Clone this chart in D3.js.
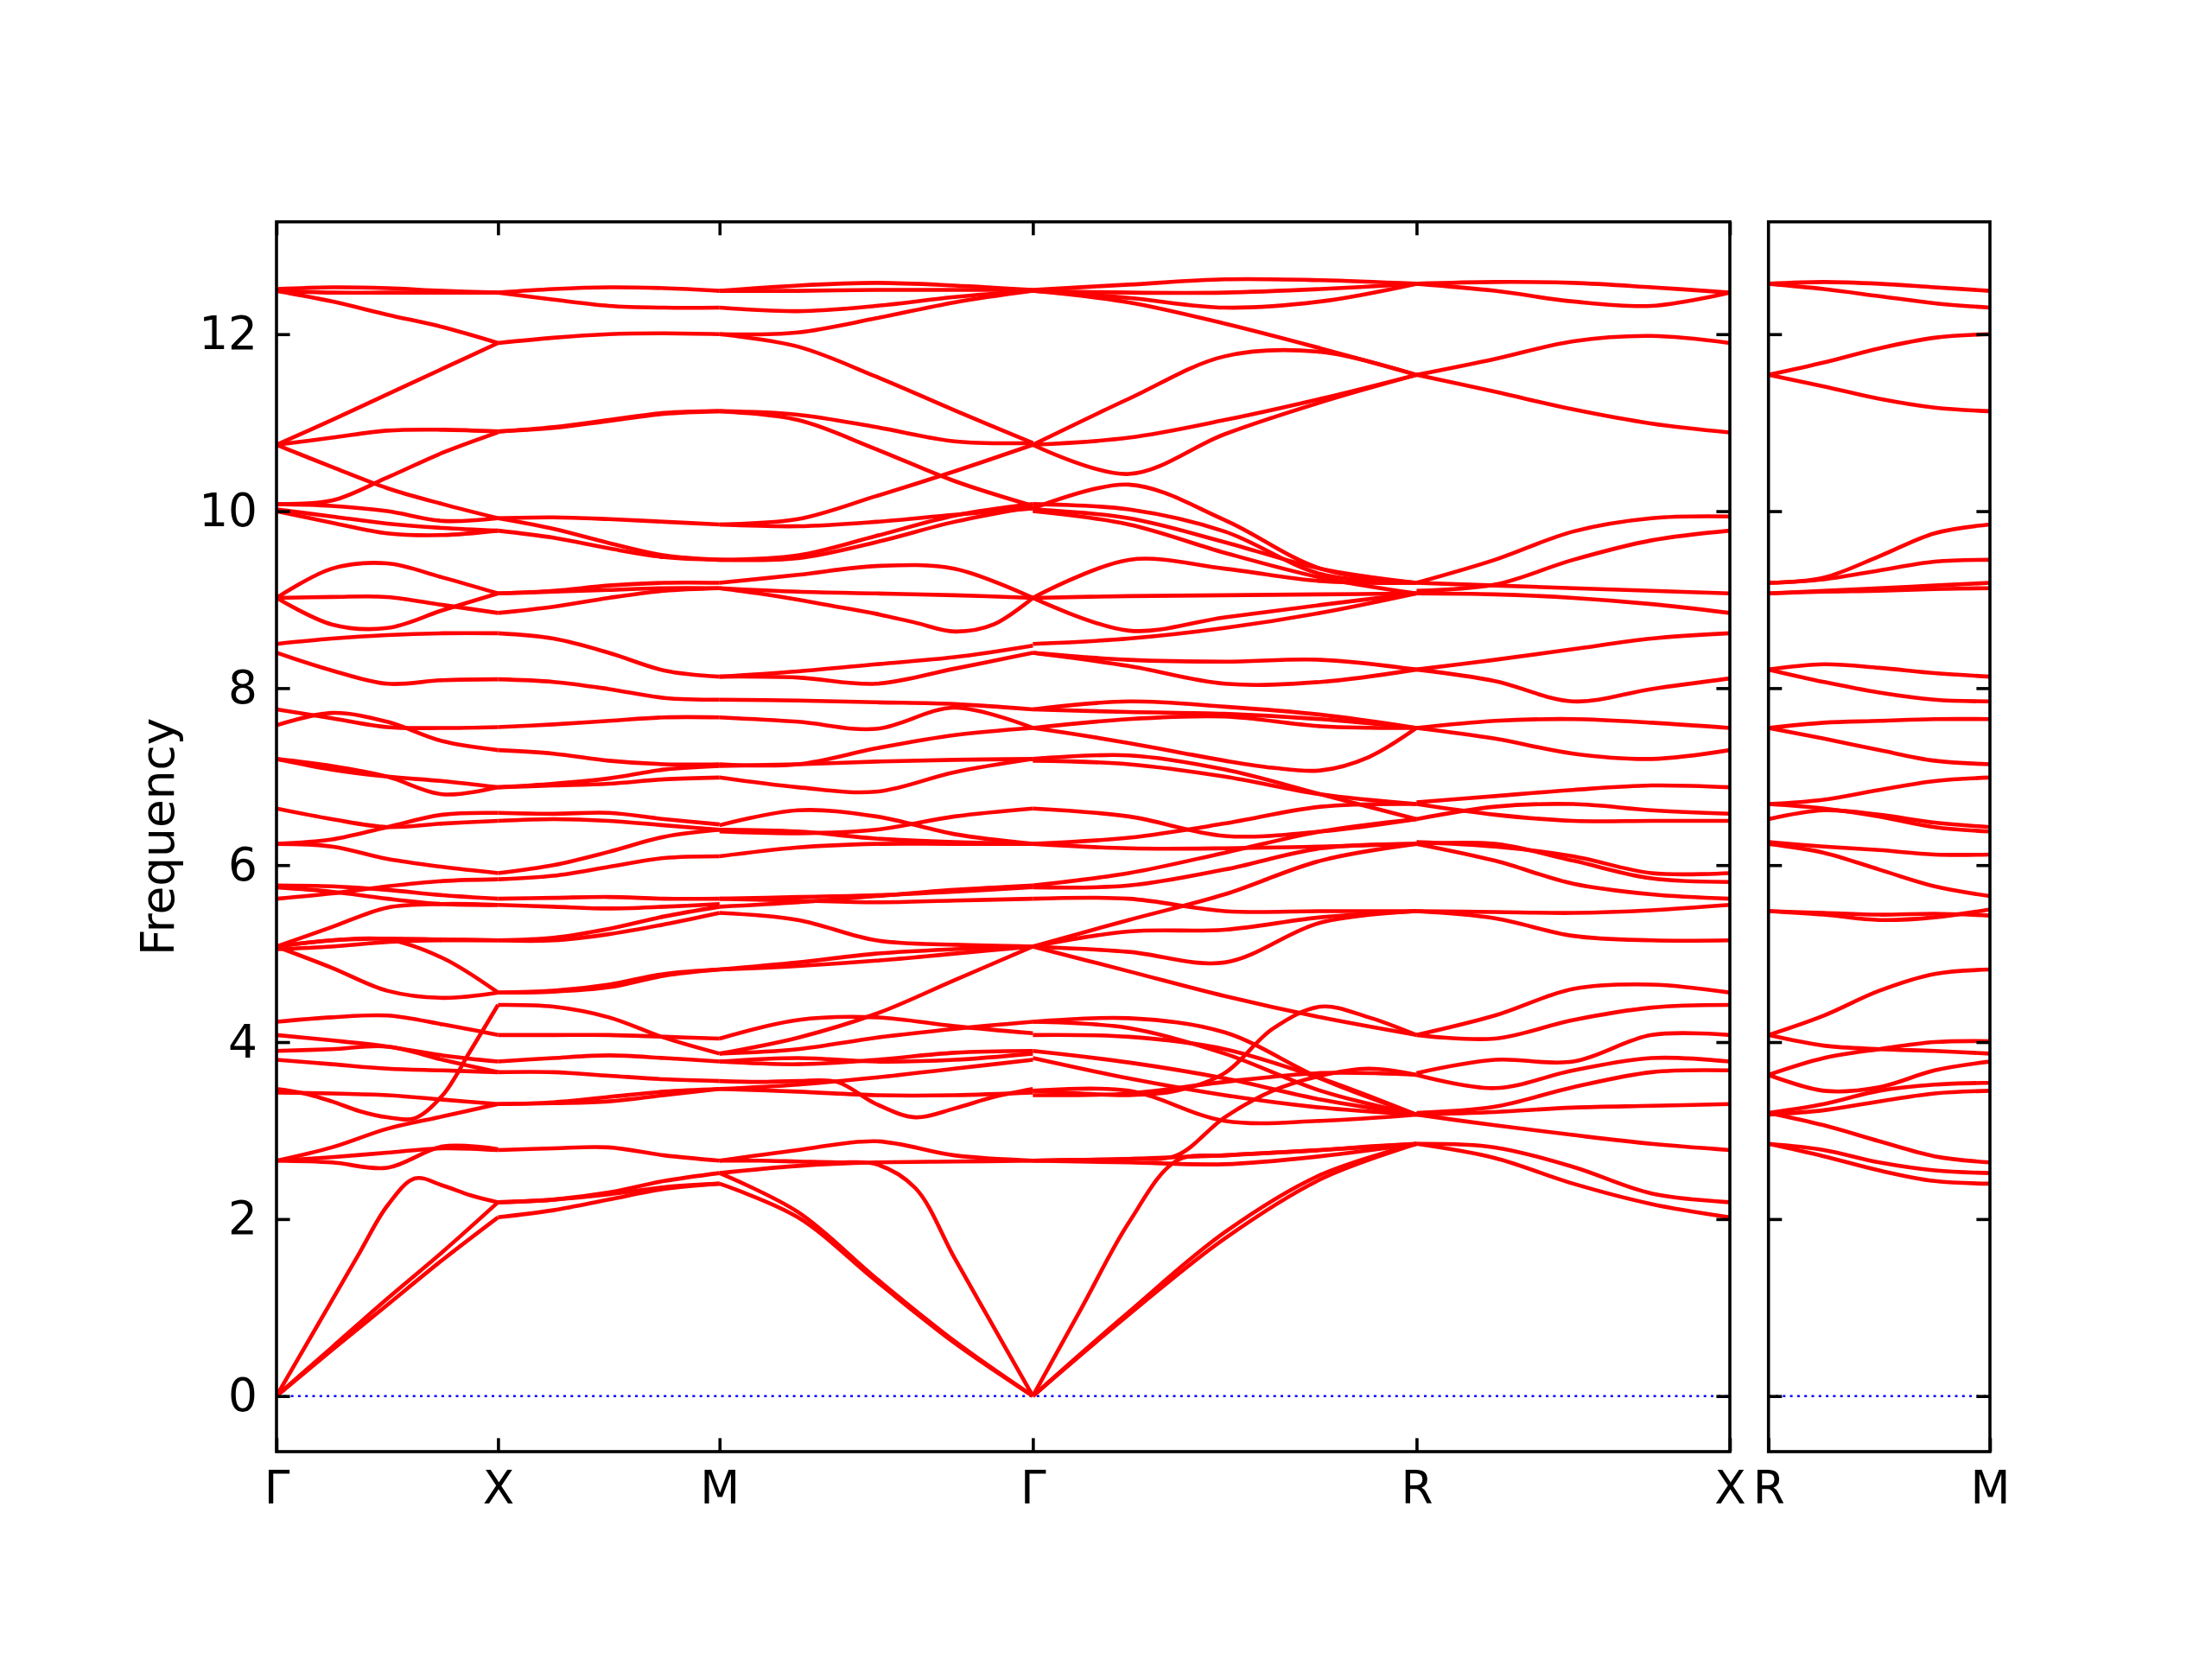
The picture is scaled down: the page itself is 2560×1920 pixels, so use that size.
<!DOCTYPE html>
<html>
<head>
<meta charset="utf-8">
<script src="https://cdn.jsdelivr.net/npm/d3@7"></script>
<style>
  body { margin: 0; background: #fff; }
  text { font-family: "DejaVu Sans", sans-serif; }
</style>
</head>
<body>
<div id="chart"></div>
<script>
"use strict";

// k-path: labels and segment lengths
let pathLabels = ["Γ", "X", "M", "Γ", "R", "X"];
let segLengths = [0.5, 0.5, 0.7071, 0.866, 0.7071];
let sideLabels = ["R", "M"];
let sideLength = 0.5;
let yTicks = [0, 2, 4, 6, 8, 10, 12];

// bands per segment, values evenly spaced along the segment
let bandsGX = [
    [12.51, 12.53, 12.52, 12.49, 12.47],
    [12.49, 12.47, 12.47, 12.47, 12.47],
    [12.49, 12.37, 12.22, 12.08, 11.90],
    [10.75, 11.03, 11.32, 11.61, 11.90],
    [10.75, 10.83, 10.91, 10.92, 10.90],
    [10.75, 10.50, 10.26, 10.08, 9.92],
    [10.08, 10.12, 10.38, 10.66, 10.89],
    [10.08, 10.06, 10.00, 9.89, 9.92],
    [10.02, 9.94, 9.86, 9.81, 9.78],
    [10.00, 9.87, 9.75, 9.73, 9.78],
    [9.02, 9.35, 9.41, 9.25, 9.07],
    [9.02, 9.03, 9.03, 8.94, 8.85],
    [9.02, 8.72, 8.68, 8.88, 9.07],
    [8.50, 8.56, 8.60, 8.62, 8.62],
    [8.40, 8.20, 8.05, 8.09, 8.10],
    [7.58, 7.72, 7.62, 7.40, 7.30],
    [7.76, 7.66, 7.56, 7.55, 7.56],
    [7.20, 7.08, 7.00, 6.95, 6.88],
    [7.20, 7.12, 7.00, 6.80, 6.88],
    [6.64, 6.52, 6.43, 6.47, 6.50],
    [6.24, 6.29, 6.43, 6.57, 6.59],
    [6.24, 6.21, 6.07, 5.98, 5.91],
    [5.77, 5.76, 5.72, 5.66, 5.62],
    [5.62, 5.68, 5.76, 5.82, 5.84],
    [5.75, 5.70, 5.62, 5.56, 5.55],
    [5.08, 5.30, 5.52, 5.56, 5.55],
    [5.08, 5.15, 5.17, 5.16, 5.15],
    [5.05, 5.08, 5.13, 5.15, 5.15],
    [5.08, 4.84, 4.58, 4.50, 4.56],
    [5.08, 5.15, 5.16, 4.95, 4.56],
    [4.23, 4.28, 4.30, 4.20, 4.08],
    [4.08, 4.02, 3.95, 3.85, 3.78],
    [3.90, 3.92, 3.95, 3.80, 3.66],
    [3.80, 3.75, 3.70, 3.68, 3.66],
    [3.47, 3.42, 3.33, 3.22, 3.15, 3.14, 3.40, 3.90, 4.42],
    [3.43, 3.42, 3.40, 3.35, 3.30],
    [2.66, 2.81, 3.02, 3.16, 3.30],
    [2.66, 2.64, 2.58, 2.82, 2.79],
    [2.66, 2.70, 2.75, 2.80, 2.78],
    [0, 0.54, 1.08, 1.62, 2.15, 2.46, 2.38, 2.27, 2.19],
    [0, 0.52, 1.03, 1.54, 2.02],
    [0, 0.55, 1.10, 1.63, 2.19]
];

let bandsXM = [
    [12.47, 12.51, 12.53, 12.52, 12.49],
    [12.47, 12.39, 12.32, 12.30, 12.30],
    [11.90, 11.96, 12.00, 12.01, 12.00],
    [10.90, 10.95, 11.03, 11.11, 11.13],
    [10.90, 10.94, 11.02, 11.10, 11.13],
    [9.92, 9.93, 9.91, 9.88, 9.85],
    [9.92, 9.80, 9.64, 9.50, 9.45],
    [9.78, 9.70, 9.58, 9.48, 9.45],
    [9.07, 9.10, 9.16, 9.19, 9.19],
    [9.07, 9.09, 9.11, 9.13, 9.13],
    [8.85, 8.92, 9.02, 9.10, 9.13],
    [8.62, 8.56, 8.40, 8.20, 8.13],
    [8.10, 8.07, 7.99, 7.89, 7.87],
    [7.56, 7.59, 7.63, 7.67, 7.67],
    [7.30, 7.26, 7.18, 7.14, 7.14],
    [6.88, 6.90, 6.92, 6.97, 6.99],
    [6.88, 6.92, 6.98, 7.08, 7.12],
    [6.59, 6.58, 6.59, 6.52, 6.46],
    [6.50, 6.52, 6.50, 6.45, 6.40],
    [5.91, 6.00, 6.15, 6.32, 6.40],
    [5.84, 5.88, 5.98, 6.08, 6.10],
    [5.62, 5.63, 5.64, 5.62, 5.62],
    [5.55, 5.53, 5.51, 5.53, 5.56],
    [5.15, 5.15, 5.22, 5.33, 5.46],
    [5.15, 5.18, 5.28, 5.42, 5.53],
    [4.56, 4.57, 4.62, 4.75, 4.82],
    [4.56, 4.58, 4.65, 4.77, 4.82],
    [4.42, 4.40, 4.28, 4.05, 3.87],
    [4.08, 4.08, 4.08, 4.06, 4.04],
    [3.78, 3.82, 3.85, 3.82, 3.78],
    [3.66, 3.66, 3.62, 3.58, 3.56],
    [3.30, 3.32, 3.38, 3.44, 3.47],
    [3.30, 3.31, 3.33, 3.40, 3.47],
    [2.78, 2.80, 2.81, 2.72, 2.66],
    [2.19, 2.22, 2.30, 2.43, 2.52],
    [2.19, 2.22, 2.28, 2.36, 2.40],
    [2.02, 2.10, 2.22, 2.34, 2.40]
];

let bandsMG = [
    [12.49, 12.55, 12.58, 12.55, 12.50],
    [12.30, 12.26, 12.32, 12.42, 12.49],
    [12.49, 12.49, 12.50, 12.50, 12.50],
    [12.00, 12.02, 12.18, 12.36, 12.49],
    [12.00, 11.86, 11.52, 11.14, 10.77],
    [11.13, 11.09, 10.95, 10.79, 10.77],
    [11.13, 11.03, 10.70, 10.34, 10.06],
    [9.85, 9.91, 10.17, 10.45, 10.75],
    [9.85, 9.83, 9.88, 9.96, 10.03],
    [9.45, 9.47, 9.65, 9.88, 10.05],
    [9.45, 9.50, 9.72, 9.95, 10.08],
    [9.19, 9.28, 9.38, 9.35, 9.02],
    [9.13, 9.09, 9.07, 9.05, 9.02],
    [9.13, 9.07, 9.00, 8.92, 8.84, 8.74, 8.64, 8.72, 9.02],
    [8.13, 8.19, 8.27, 8.35, 8.48],
    [8.13, 8.12, 8.05, 8.22, 8.40],
    [7.87, 7.86, 7.84, 7.82, 7.76],
    [7.67, 7.62, 7.54, 7.78, 7.55],
    [7.14, 7.14, 7.32, 7.47, 7.55],
    [7.12, 7.14, 7.17, 7.19, 7.20],
    [6.99, 6.88, 6.83, 7.05, 7.20],
    [6.45, 6.62, 6.55, 6.35, 6.24],
    [6.38, 6.36, 6.40, 6.55, 6.64],
    [6.40, 6.38, 6.30, 6.26, 6.24],
    [6.10, 6.20, 6.24, 6.24, 6.24],
    [5.62, 5.64, 5.66, 5.70, 5.75],
    [5.53, 5.58, 5.65, 5.72, 5.77],
    [5.62, 5.60, 5.58, 5.60, 5.62],
    [5.46, 5.38, 5.15, 5.10, 5.08],
    [4.82, 4.86, 4.92, 5.00, 5.08],
    [4.82, 4.90, 5.00, 5.05, 5.08],
    [3.87, 4.05, 4.32, 4.70, 5.08],
    [4.04, 4.25, 4.28, 4.18, 4.10],
    [3.87, 3.92, 4.05, 4.15, 4.23],
    [3.78, 3.75, 3.80, 3.88, 3.90],
    [3.78, 3.82, 3.78, 3.80, 3.87],
    [3.56, 3.55, 3.56, 3.55, 3.30, 3.15, 3.25, 3.38, 3.47],
    [3.47, 3.44, 3.40, 3.40, 3.43],
    [3.47, 3.52, 3.60, 3.70, 3.80],
    [2.66, 2.78, 2.88, 2.72, 2.66],
    [2.52, 2.60, 2.64, 2.65, 2.66],
    [2.66, 2.66, 2.65, 2.64, 2.62, 2.35, 1.56, 0.78, 0],
    [2.52, 2.08, 1.33, 0.62, 0],
    [2.40, 2.02, 1.30, 0.60, 0]
];

let bandsGR = [
    [12.50, 12.56, 12.62, 12.61, 12.57],
    [12.49, 12.47, 12.47, 12.51, 12.57],
    [12.49, 12.41, 12.30, 12.37, 12.57],
    [12.49, 12.36, 12.12, 11.84, 11.54],
    [10.75, 11.27, 11.75, 11.80, 11.54],
    [10.75, 10.83, 11.03, 11.27, 11.54],
    [10.75, 10.42, 10.87, 11.23, 11.54],
    [10.03, 10.30, 9.90, 9.35, 9.19],
    [10.08, 10.02, 9.77, 9.29, 9.19],
    [10.02, 9.92, 9.65, 9.35, 9.19],
    [10.00, 9.85, 9.53, 9.25, 9.07],
    [9.02, 9.45, 9.35, 9.21, 9.19],
    [9.02, 9.04, 9.05, 9.06, 9.07],
    [9.02, 8.65, 8.80, 8.94, 9.07],
    [8.50, 8.56, 8.68, 8.85, 9.07],
    [8.40, 8.25, 8.05, 8.07, 8.21],
    [8.40, 8.32, 8.30, 8.32, 8.21],
    [7.76, 7.73, 7.71, 7.65, 7.55],
    [7.76, 7.85, 7.79, 7.70, 7.55],
    [7.55, 7.65, 7.68, 7.57, 7.55],
    [7.55, 7.47, 7.38, 7.28, 7.18, 7.10, 7.07, 7.22, 7.55],
    [7.20, 7.24, 7.08, 6.80, 6.52],
    [7.18, 7.14, 7.00, 6.80, 6.69],
    [6.64, 6.55, 6.33, 6.38, 6.52],
    [6.24, 6.31, 6.47, 6.66, 6.69],
    [6.24, 6.19, 6.19, 6.21, 6.24],
    [5.77, 5.91, 6.14, 6.38, 6.52],
    [5.75, 5.77, 5.95, 6.19, 6.24],
    [5.62, 5.62, 5.48, 5.48, 5.48],
    [5.08, 5.38, 5.67, 6.05, 6.24],
    [5.08, 5.02, 4.90, 5.35, 5.48],
    [5.08, 5.25, 5.27, 5.41, 5.48],
    [5.08, 4.80, 4.52, 4.28, 4.08],
    [4.23, 4.27, 4.11, 3.59, 3.18],
    [4.23, 4.16, 3.87, 3.45, 3.18],
    [4.08, 4.06, 3.92, 3.59, 3.18],
    [3.90, 3.77, 3.59, 3.35, 3.18],
    [3.82, 3.59, 3.40, 3.26, 3.18],
    [3.45, 3.45, 3.11, 3.11, 3.18],
    [3.45, 3.42, 3.40, 3.45, 3.65, 4.15, 4.40, 4.28, 4.08],
    [2.66, 2.67, 2.68, 2.72, 3.15, 3.45, 3.62, 3.70, 3.63],
    [3.40, 3.42, 3.55, 3.65, 3.63],
    [2.66, 2.68, 2.72, 2.78, 2.85],
    [2.66, 2.64, 2.62, 2.71, 2.85],
    [0, 0.98, 1.96, 2.66, 2.72, 2.75, 2.78, 2.82, 2.85],
    [0, 0.95, 1.85, 2.50, 2.85],
    [0, 0.92, 1.78, 2.45, 2.85]
];

let bandsRX = [
    [12.57, 12.59, 12.58, 12.53, 12.47],
    [12.57, 12.49, 12.37, 12.32, 12.47],
    [11.54, 11.72, 11.92, 11.98, 11.90],
    [11.54, 11.35, 11.15, 10.99, 10.89],
    [9.19, 9.45, 9.77, 9.92, 9.94],
    [9.10, 9.17, 9.45, 9.67, 9.78],
    [9.07, 9.06, 9.02, 8.95, 8.85],
    [9.19, 9.16, 9.13, 9.10, 9.07],
    [8.21, 8.32, 8.44, 8.56, 8.62],
    [8.21, 8.08, 7.85, 7.99, 8.11],
    [7.55, 7.63, 7.65, 7.61, 7.55],
    [7.55, 7.43, 7.26, 7.20, 7.30],
    [6.71, 6.78, 6.85, 6.90, 6.88],
    [6.52, 6.66, 6.69, 6.62, 6.58],
    [6.69, 6.57, 6.50, 6.50, 6.50],
    [6.26, 6.21, 6.10, 5.91, 5.91],
    [6.24, 6.24, 6.05, 5.85, 5.81],
    [6.24, 6.05, 5.79, 5.67, 5.62],
    [5.48, 5.47, 5.46, 5.49, 5.55],
    [5.48, 5.40, 5.20, 5.15, 5.15],
    [4.08, 4.30, 4.60, 4.65, 4.56],
    [4.08, 4.04, 4.25, 4.39, 4.42],
    [3.65, 3.80, 3.78, 4.08, 4.08],
    [3.63, 3.48, 3.68, 3.82, 3.78],
    [3.20, 3.27, 3.49, 3.66, 3.68],
    [3.18, 3.21, 3.26, 3.28, 3.30],
    [3.18, 3.06, 2.95, 2.85, 2.78],
    [2.85, 2.81, 2.59, 2.29, 2.19],
    [2.85, 2.69, 2.40, 2.17, 2.02]
];

let bandsRM = [
    [12.57, 12.59, 12.57, 12.53, 12.49],
    [12.57, 12.51, 12.43, 12.35, 12.30],
    [11.54, 11.68, 11.84, 11.96, 12.00],
    [11.54, 11.41, 11.27, 11.17, 11.13],
    [9.19, 9.25, 9.49, 9.75, 9.85],
    [9.19, 9.23, 9.33, 9.43, 9.45],
    [9.07, 9.09, 9.10, 9.12, 9.13],
    [9.07, 9.10, 9.13, 9.16, 9.19],
    [8.21, 8.27, 8.23, 8.17, 8.13],
    [8.21, 8.07, 7.95, 7.87, 7.85],
    [7.55, 7.61, 7.63, 7.65, 7.65],
    [7.55, 7.43, 7.30, 7.18, 7.14],
    [6.69, 6.74, 6.85, 6.95, 6.99],
    [6.52, 6.62, 6.57, 6.48, 6.43],
    [6.69, 6.64, 6.55, 6.43, 6.38],
    [6.26, 6.21, 6.17, 6.12, 6.12],
    [6.24, 6.14, 5.95, 5.76, 5.65],
    [5.48, 5.46, 5.44, 5.45, 5.43],
    [5.48, 5.44, 5.38, 5.41, 5.50],
    [4.08, 4.30, 4.58, 4.77, 4.82],
    [4.08, 3.96, 3.92, 3.90, 3.87],
    [3.63, 3.82, 3.92, 4.00, 4.01],
    [3.63, 3.45, 3.49, 3.68, 3.78],
    [3.20, 3.30, 3.45, 3.52, 3.54],
    [3.18, 3.23, 3.33, 3.42, 3.45],
    [3.20, 3.06, 2.88, 2.71, 2.64],
    [2.85, 2.78, 2.64, 2.55, 2.52],
    [2.85, 2.71, 2.55, 2.43, 2.40]
];

let mainSegments = [bandsGX, bandsXM, bandsMG, bandsGR, bandsRX];

function drawBands(g, bands, xStart, xLen, xScale, yScale) {
    let line = d3.line().curve(d3.curveCatmullRom.alpha(0.5))
        .x(function (d) { return xScale(d[0]); })
        .y(function (d) { return yScale(d[1]); });

    bands.forEach(function (b) {
        let pts = b.map(function (v, i) {
            return [xStart + xLen * i / (b.length - 1), v];
        });
        g.append("path").attr("d", line(pts))
            .attr("fill", "none").attr("stroke", "#ff0000")
            .attr("stroke-width", 4.6).attr("stroke-linejoin", "round");
    });
}

function styleAxis(g) {
    g.select(".domain").remove();
    g.selectAll(".tick line").attr("stroke", "#000").attr("stroke-width", 3.6);
    g.selectAll(".tick text").attr("font-size", 53.3)
        .attr("font-family", "DejaVu Sans, sans-serif").attr("fill", "#000");
}

function bandPlot() {
    let width = 2560;
    let height = 1920;
    let top = 256.7;
    let bottom = 1680;
    let mainLeft = 320;
    let mainRight = 2002;
    let sideLeft = 2046.7;
    let sideRight = 2303;
    let tick = 15.6;

    let svg = d3.select("#chart").append("svg")
        .attr("width", width).attr("height", height)
        .style("background", "#fff");

    // cumulative positions of the high-symmetry points
    let kPos = [0];
    segLengths.forEach(function (l) { kPos.push(kPos[kPos.length - 1] + l); });
    let total = kPos[kPos.length - 1];

    let yScale = d3.scaleLinear().domain([-0.628, 13.27]).range([bottom, top]);
    let xMain = d3.scaleLinear().domain([0, total]).range([mainLeft, mainRight]);
    let xSide = d3.scaleLinear().domain([0, sideLength]).range([sideLeft, sideRight]);

    let defs = svg.append("defs");
    defs.append("clipPath").attr("id", "clipMain").append("rect")
        .attr("x", mainLeft).attr("y", top)
        .attr("width", mainRight - mainLeft).attr("height", bottom - top);
    defs.append("clipPath").attr("id", "clipSide").append("rect")
        .attr("x", sideLeft).attr("y", top)
        .attr("width", sideRight - sideLeft).attr("height", bottom - top);

    // zero line
    [[mainLeft, mainRight], [sideLeft, sideRight]].forEach(function (p) {
        svg.append("line").attr("x1", p[0]).attr("x2", p[1])
            .attr("y1", yScale(0)).attr("y2", yScale(0))
            .attr("stroke", "#0000ff").attr("stroke-width", 2.4)
            .attr("stroke-dasharray", "3,5.3");
    });

    // bands
    let gMain = svg.append("g").attr("clip-path", "url(#clipMain)");
    mainSegments.forEach(function (bands, i) {
        drawBands(gMain, bands, kPos[i], segLengths[i], xMain, yScale);
    });
    let gSide = svg.append("g").attr("clip-path", "url(#clipSide)");
    drawBands(gSide, bandsRM, 0, sideLength, xSide, yScale);

    // y axes, ticks inward
    svg.append("g").attr("transform", `translate(${mainLeft},0)`)
        .call(d3.axisLeft(yScale).tickValues(yTicks).tickSizeInner(-tick)
            .tickSizeOuter(0).tickPadding(22))
        .call(styleAxis);
    svg.append("g").attr("transform", `translate(${mainRight},0)`)
        .call(d3.axisRight(yScale).tickValues(yTicks).tickSizeInner(-tick)
            .tickSizeOuter(0).tickFormat(""))
        .call(styleAxis);
    svg.append("g").attr("transform", `translate(${sideLeft},0)`)
        .call(d3.axisLeft(yScale).tickValues(yTicks).tickSizeInner(-tick)
            .tickSizeOuter(0).tickFormat(""))
        .call(styleAxis);
    svg.append("g").attr("transform", `translate(${sideRight},0)`)
        .call(d3.axisRight(yScale).tickValues(yTicks).tickSizeInner(-tick)
            .tickSizeOuter(0).tickFormat(""))
        .call(styleAxis);

    // x axes
    svg.append("g").attr("transform", `translate(0,${bottom})`)
        .call(d3.axisBottom(xMain).tickValues(kPos).tickSizeInner(-tick)
            .tickSizeOuter(0).tickPadding(22)
            .tickFormat(function (d, i) { return pathLabels[i]; }))
        .call(styleAxis);
    svg.append("g").attr("transform", `translate(0,${top})`)
        .call(d3.axisTop(xMain).tickValues(kPos).tickSizeInner(-tick)
            .tickSizeOuter(0).tickFormat(""))
        .call(styleAxis);
    svg.append("g").attr("transform", `translate(0,${bottom})`)
        .call(d3.axisBottom(xSide).tickValues([0, sideLength]).tickSizeInner(-tick)
            .tickSizeOuter(0).tickPadding(22)
            .tickFormat(function (d, i) { return sideLabels[i]; }))
        .call(styleAxis);

    // frames
    svg.append("rect").attr("x", mainLeft).attr("y", top)
        .attr("width", mainRight - mainLeft).attr("height", bottom - top)
        .attr("fill", "none").attr("stroke", "#000").attr("stroke-width", 3.6);
    svg.append("rect").attr("x", sideLeft).attr("y", top)
        .attr("width", sideRight - sideLeft).attr("height", bottom - top)
        .attr("fill", "none").attr("stroke", "#000").attr("stroke-width", 3.6);

    // y label
    svg.append("text")
        .attr("transform", `translate(183,${(top + bottom) / 2}) rotate(-90)`)
        .attr("text-anchor", "middle").attr("dominant-baseline", "central")
        .attr("font-size", 53.3).attr("fill", "#000")
        .text("Frequency");
}

window.onload = function () {
    bandPlot();
};
</script>
</body>
</html>
